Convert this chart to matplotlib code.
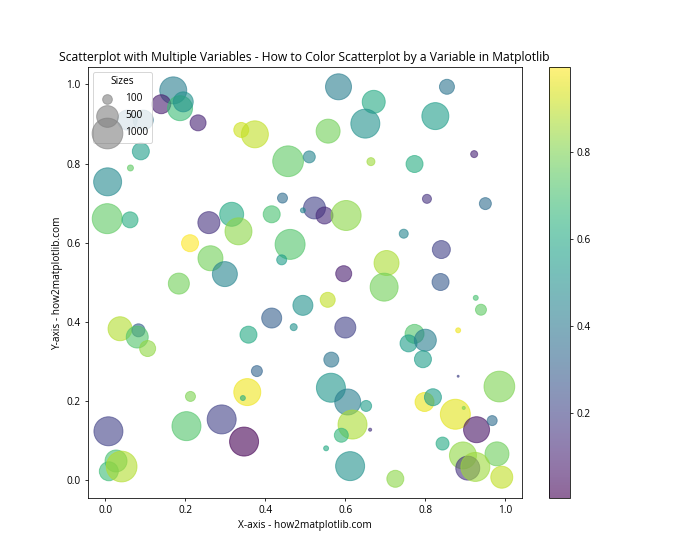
import matplotlib
matplotlib.use("Agg")
import matplotlib.pyplot as plt

plt.rcParams['font.family'] = ['Open Sans', 'DejaVu Sans']
plt.rcParams['font.size'] = 10.4

# values
x = [0.170, 0.140, 0.187, 0.195, 0.232, 0.340, 0.374, 0.457, 0.089, 0.063,
     0.006, 0.055, 0.095, 0.583, 0.671, 0.650, 0.825, 0.854, 0.557, 0.510,
     0.664, 0.773, 0.922, 0.804, 0.005, 0.062, 0.259, 0.316, 0.333, 0.416,
     0.443, 0.212, 0.263, 0.299, 0.184, 0.462, 0.441, 0.037, 0.083, 0.080,
     0.106, 0.358, 0.416, 0.471, 0.523, 0.548, 0.494, 0.602, 0.950, 0.746,
     0.840, 0.703, 0.697, 0.596, 0.838, 0.494, 0.556, 0.926, 0.939, 0.600,
     0.882, 0.773, 0.758, 0.800, 0.794, 0.565, 0.564, 0.606, 0.652, 0.618,
     0.662, 0.590, 0.552, 0.612, 0.725, 0.882, 0.798, 0.819, 0.985, 0.875,
     0.896, 0.928, 0.967, 0.843, 0.894, 0.979, 0.906, 0.925, 0.991, 0.379,
     0.355, 0.344, 0.213, 0.203, 0.291, 0.347, 0.008, 0.027, 0.009, 0.041]
y = [0.985, 0.950, 0.940, 0.956, 0.903, 0.885, 0.874, 0.806, 0.831, 0.789,
     0.754, 0.910, 0.910, 0.994, 0.956, 0.901, 0.920, 0.994, 0.882, 0.817,
     0.805, 0.799, 0.824, 0.711, 0.661, 0.658, 0.651, 0.672, 0.629, 0.672,
     0.713, 0.599, 0.561, 0.521, 0.497, 0.596, 0.557, 0.383, 0.379, 0.362,
     0.333, 0.368, 0.410, 0.387, 0.688, 0.669, 0.682, 0.669, 0.699, 0.623,
     0.583, 0.549, 0.488, 0.522, 0.501, 0.442, 0.456, 0.461, 0.431, 0.386,
     0.379, 0.370, 0.346, 0.354, 0.306, 0.305, 0.234, 0.198, 0.188, 0.141,
     0.128, 0.114, 0.081, 0.036, 0.004, 0.263, 0.198, 0.210, 0.237, 0.167,
     0.183, 0.128, 0.151, 0.093, 0.063, 0.067, 0.031, 0.034, 0.008, 0.276,
     0.223, 0.208, 0.212, 0.137, 0.154, 0.098, 0.124, 0.049, 0.023, 0.035]
colors = [0.42, 0.08, 0.68, 0.50, 0.10, 0.92, 0.90, 0.75, 0.55, 0.75,
          0.47, 0.35, 0.38, 0.42, 0.60, 0.50, 0.55, 0.38, 0.78, 0.45,
          0.85, 0.62, 0.10, 0.15, 0.75, 0.62, 0.15, 0.60, 0.82, 0.70,
          0.35, 0.994, 0.78, 0.45, 0.78, 0.72, 0.55, 0.88, 0.30, 0.72,
          0.83, 0.60, 0.30, 0.50, 0.20, 0.12, 0.45, 0.82, 0.35, 0.45,
          0.20, 0.87, 0.78, 0.08, 0.28, 0.50, 0.90, 0.70, 0.75, 0.20,
          0.97, 0.72, 0.55, 0.42, 0.55, 0.38, 0.52, 0.42, 0.55, 0.87,
          0.15, 0.65, 0.60, 0.50, 0.82, 0.20, 0.96, 0.55, 0.80, 0.95,
          0.80, 0.05, 0.35, 0.60, 0.83, 0.77, 0.15, 0.85, 0.90, 0.32,
          0.97, 0.62, 0.80, 0.72, 0.20, 0.003, 0.20, 0.70, 0.68, 0.88]
sizes = [771, 382, 661, 423, 271, 238, 771, 1000, 306, 38,
         829, 423, 423, 715, 560, 890, 771, 238, 609, 152,
         68, 306, 52, 86, 952, 271, 512, 609, 771, 306,
         106, 306, 661, 661, 467, 952, 106, 609, 179, 512,
         271, 306, 423, 52, 512, 306, 26, 952, 152, 86,
         343, 661, 829, 271, 306, 423, 238, 26, 128, 467,
         26, 382, 306, 512, 306, 238, 890, 715, 128, 890,
         10, 207, 26, 890, 306, 4, 382, 306, 1000, 952,
         10, 715, 106, 179, 771, 609, 609, 890, 512, 128,
         771, 26, 106, 890, 890, 890, 890, 512, 382, 1000]
legend_sizes = [100, 500, 1000]

plt.figure(figsize=(10, 8), dpi=70)
scatter = plt.scatter(x, y, s=sizes, c=colors, alpha=0.6, cmap='viridis')
plt.colorbar(scatter)

for size in legend_sizes:
    plt.scatter([], [], c='gray', alpha=0.6, s=size, label=str(size))
plt.legend(scatterpoints=1, title='Sizes', loc='upper left', labelspacing=0.6)

plt.xlabel('X-axis - how2matplotlib.com')
plt.ylabel('Y-axis - how2matplotlib.com')
plt.title('Scatterplot with Multiple Variables - How to Color Scatterplot by a Variable in Matplotlib')
plt.savefig('out.png', dpi=70)
